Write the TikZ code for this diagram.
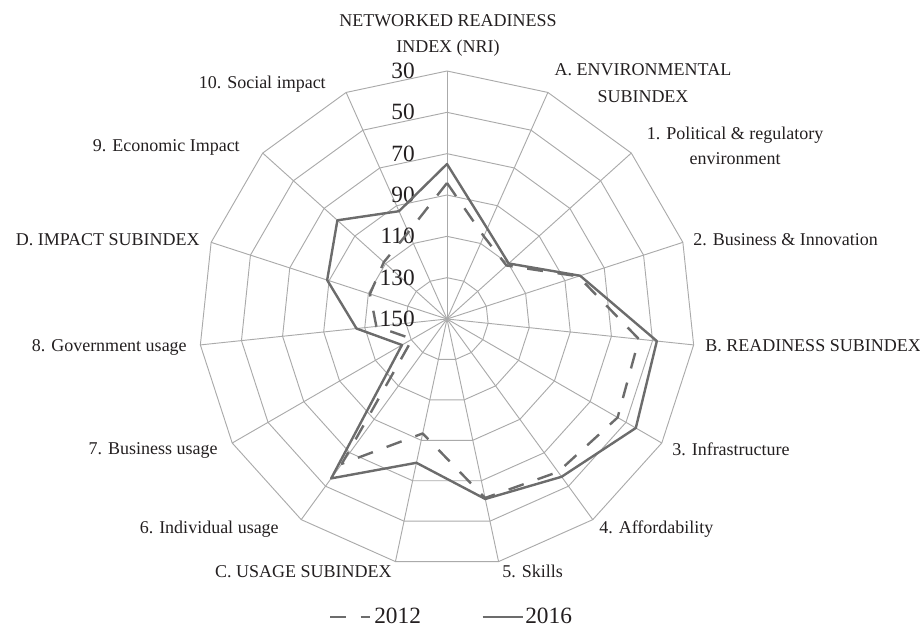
\documentclass[tikz,border=0pt]{standalone}
\usepackage{fontspec}
\setmainfont{Liberation Serif}
\definecolor{gridc}{RGB}{170,170,170}
\definecolor{linec}{RGB}{108,108,108}
\definecolor{textc}{RGB}{35,31,32}
\begin{document}
\begin{tikzpicture}[x=0.75pt,y=0.75pt,
  gridline/.style={draw=gridc,line width=0.7pt},
  s2016/.style={draw=linec,line width=1.8pt,line join=round},
  d2012/.style={draw=linec,line width=1.8pt,line join=round,dash pattern=on 12pt off 11pt},
  cat/.style={inner sep=0pt,text=textc,font=\fontsize{13.5}{16}\selectfont},
  num/.style={inner sep=0pt,anchor=east,text=textc,font=\fontsize{17.5}{20}\selectfont},
  leg/.style={inner sep=0pt,anchor=base west,text=textc,font=\fontsize{17.5}{20}\selectfont}]
\useasboundingbox (-447,-309) rectangle (473,319);
% rings
\foreach \k in {1,...,6}{
  \draw[gridline] (90:\k*41.333) -- (66:\k*41.333) -- (42:\k*41.333) -- (18:\k*41.333)
   -- (-6:\k*41.333) -- (-30:\k*41.333) -- (-54:\k*41.333) -- (-78:\k*41.333)
   -- (-102:\k*41.333) -- (-126:\k*41.333) -- (-150:\k*41.333) -- (-174:\k*41.333)
   -- (-198:\k*41.333) -- (-222:\k*41.333) -- (-246:\k*41.333) -- cycle;
}
% spokes
\coordinate (O) at (0,0);
\foreach \i in {0,...,14}{
  \coordinate (ax\i) at (90-24*\i:248);
  \draw[gridline] (O) -- (ax\i);
}
% scale labels
\foreach \v [count=\k from 0] in {150,130,110,90,70,50,30}{
  \node[num] (n\v) at (-32,\k*41.333) {\v};
}
% data 2012
\draw[d2012] (90:136) -- (66:90.5) -- (42:80) -- (18:138) -- (-6:193) -- (-30:197)
  -- (-54:189) -- (-78:183) -- (-102:117) -- (-126:179) -- (-150:40) -- (-174:71)
  -- (-198:81) -- (-222:85) -- (-246:95) -- cycle;
% data 2016
\draw[s2016] (90:155) -- (66:99) -- (42:83) -- (18:140) -- (-6:211) -- (-30:218)
  -- (-54:195) -- (-78:184) -- (-102:147) -- (-126:197) -- (-150:52) -- (-174:91)
  -- (-198:126) -- (-222:147.5) -- (-246:118) -- cycle;
% category labels
\node[cat,anchor=base] (nri1) at (1,292.3) {NETWORKED READINESS};
\node[cat,anchor=base] (nri2) at (1,266.3) {INDEX (NRI)};
\node[cat,anchor=base] (envA1) at (196,243) {A. ENVIRONMENTAL};
\node[cat,anchor=base] (envA2) at (196,216.3) {SUBINDEX};
\node[cat,anchor=base] (pol1) at (288,179) {1. Political \& regulatory};
\node[cat,anchor=base] (pol2) at (288,154) {environment};
\node[cat,anchor=base west] (bus) at (246,74) {2. Business \& Innovation};
\node[cat,anchor=base west] (readB) at (258,-32.7) {B. READINESS SUBINDEX};
\node[cat,anchor=base west] (infra) at (225,-136) {3. Infrastructure};
\node[cat,anchor=base west] (afford) at (152,-214) {4. Affordability};
\node[cat,anchor=base west] (skills) at (55,-258) {5. Skills};
\node[cat,anchor=base east] (usageC) at (-55,-258) {C. USAGE SUBINDEX};
\node[cat,anchor=base east] (indiv) at (-168,-214) {6. Individual usage};
\node[cat,anchor=base east] (busu) at (-229,-135) {7. Business usage};
\node[cat,anchor=base east] (gov) at (-260,-32.7) {8. Government usage};
\node[cat,anchor=base east] (impD) at (-247,74) {D. IMPACT SUBINDEX};
\node[cat,anchor=base east] (econ) at (-207,167.3) {9. Economic Impact};
\node[cat,anchor=base east] (social) at (-121,230) {10. Social impact};
% legend
\coordinate (l1a) at (-117,-298);
\coordinate (l1b) at (-77,-298);
\draw[d2012] (l1a) -- (l1b);
\node[leg] (t2012) at (-73,-304.5) {2012};
\coordinate (l2a) at (35.7,-298);
\coordinate (l2b) at (75.7,-298);
\draw[s2016] (l2a) -- (l2b);
\node[leg] (t2016) at (78,-304.5) {2016};
\end{tikzpicture}
\end{document}
